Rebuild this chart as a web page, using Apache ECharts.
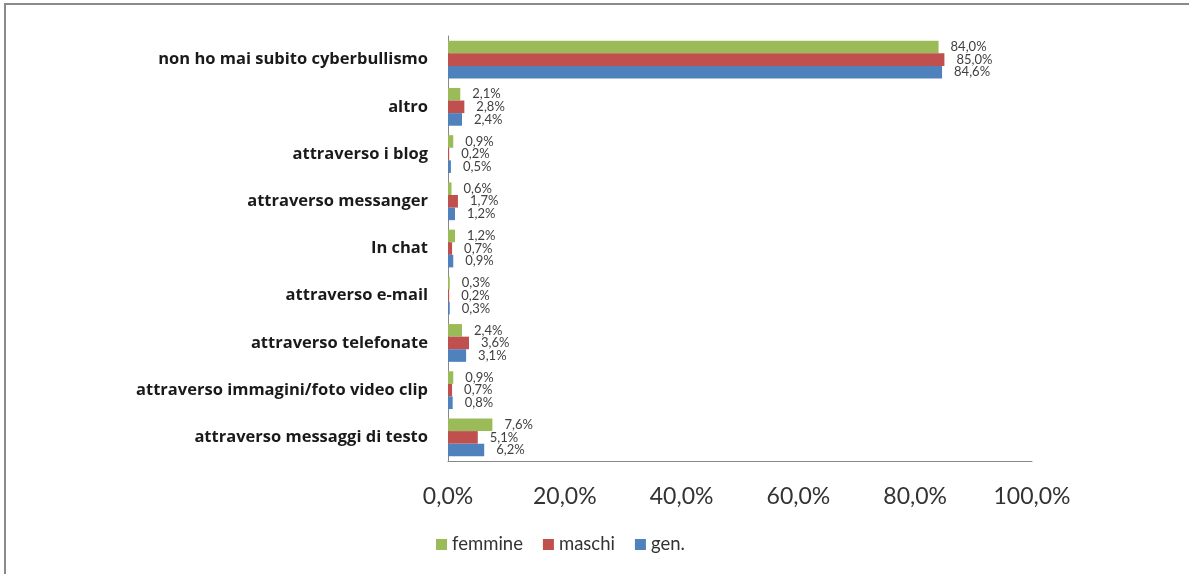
<!DOCTYPE html>
<html>
<head>
<meta charset="utf-8">
<script src="https://cdn.jsdelivr.net/npm/echarts@6/dist/echarts.min.js"></script>
<style>
  html, body { margin: 0; padding: 0; background: #fff; }
  #chart { width: 1189px; height: 574px; }
</style>
</head>
<body>
<div id="chart"></div>
<script>
// categorie, dall'alto verso il basso
const categories = [
  'non ho mai subito cyberbullismo',
  'altro',
  'attraverso i blog',
  'attraverso messanger',
  'In chat',
  'attraverso e-mail',
  'attraverso telefonate',
  'attraverso immagini/foto video clip',
  'attraverso messaggi di testo'
]
const femmine = [84.0, 2.1, 0.9, 0.6, 1.2, 0.3, 2.4, 0.9, 7.6]
const maschi = [85.0, 2.8, 0.2, 1.7, 0.7, 0.2, 3.6, 0.7, 5.1]
const gen = [84.6, 2.4, 0.5, 1.2, 0.9, 0.3, 3.1, 0.8, 6.2]
const xTicks = [0, 20, 40, 60, 80, 100]

const fmt = v => v.toFixed(1).replace('.', ',') + '%'
const font = 'Lato, "Open Sans", sans-serif'

function makeSeries(name, data, color) {
  return {
    name: name,
    type: 'bar',
    data: data,
    barGap: '0%',
    barCategoryGap: '20%',
    itemStyle: { color: color },
    label: {
      show: true,
      position: 'right',
      distance: 12,
      fontSize: 13,
      fontFamily: font,
      color: '#404040',
      formatter: p => fmt(p.value)
    }
  }
}

const chart = echarts.init(document.getElementById('chart'))
chart.setOption({
  animation: false,
  textStyle: { fontFamily: font },
  graphic: [{
    type: 'rect',
    shape: { x: 5, y: 4, width: 1300, height: 700 },
    style: { fill: 'none', stroke: '#8a8a8a', lineWidth: 2 }
  }],
  grid: { left: 448, right: 157, top: 36, bottom: 113 },
  legend: {
    left: 431,
    top: 530,
    itemWidth: 11,
    itemHeight: 11,
    itemGap: 20,
    icon: 'rect',
    textStyle: { fontSize: 18.5, color: '#333', fontFamily: font }
  },
  xAxis: {
    type: 'value',
    min: 0,
    max: 100,
    interval: 20,
    splitLine: { show: false },
    axisLine: { show: true, lineStyle: { color: '#888' } },
    axisTick: { show: false },
    axisLabel: {
      fontSize: 23,
      color: '#333',
      margin: 24,
      formatter: v => xTicks.includes(v) ? fmt(v) : ''
    }
  },
  yAxis: {
    type: 'category',
    data: categories,
    inverse: true,
    axisLine: { show: true, lineStyle: { color: '#888' } },
    axisTick: { show: false },
    axisLabel: {
      fontSize: 16.5,
      fontWeight: 'bold',
      fontFamily: '"Open Sans", sans-serif',
      color: '#1a1a1a',
      margin: 20
    }
  },
  series: [
    makeSeries('femmine', femmine, '#9BBB59'),
    makeSeries('maschi', maschi, '#C0504D'),
    makeSeries('gen.', gen, '#4F81BD')
  ]
})
</script>
</body>
</html>
